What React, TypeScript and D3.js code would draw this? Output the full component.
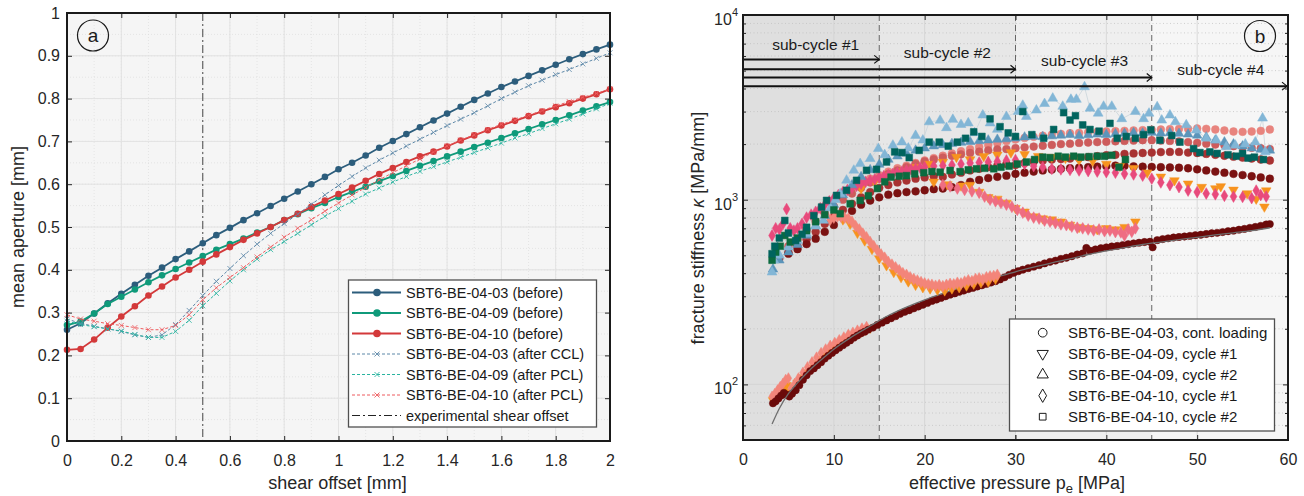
import * as d3 from "d3";
import { useEffect, useRef } from "react";

const FONT = "'Liberation Sans', Arial, Helvetica, sans-serif";

// ---------- panel a: mean aperture vs shear offset ----------
const shearOffset = [
  0, 0.05, 0.1, 0.15, 0.2, 0.25, 0.3, 0.35, 0.4, 0.45, 0.5, 0.55, 0.6, 0.65, 0.7, 0.75, 0.8, 0.85, 0.9, 0.95, 1,
  1.05, 1.1, 1.15, 1.2, 1.25, 1.3, 1.35, 1.4, 1.45, 1.5, 1.55, 1.6, 1.65, 1.7, 1.75, 1.8, 1.85, 1.9, 1.95, 2,
];
const ap03Before = [
  0.26, 0.275, 0.298, 0.322, 0.344, 0.365, 0.386, 0.405, 0.425, 0.443, 0.462, 0.481, 0.498, 0.516, 0.532, 0.549,
  0.566, 0.583, 0.6, 0.617, 0.635, 0.65, 0.667, 0.685, 0.701, 0.717, 0.733, 0.749, 0.765, 0.781, 0.797, 0.812,
  0.827, 0.84, 0.853, 0.866, 0.879, 0.892, 0.904, 0.915, 0.926,
];
const ap09Before = [
  0.271, 0.279, 0.298, 0.32, 0.337, 0.354, 0.371, 0.387, 0.402, 0.417, 0.432, 0.447, 0.46, 0.473, 0.487, 0.5,
  0.516, 0.53, 0.544, 0.556, 0.57, 0.582, 0.594, 0.607, 0.619, 0.631, 0.643, 0.654, 0.665, 0.676, 0.687, 0.697,
  0.708, 0.719, 0.729, 0.74, 0.75, 0.761, 0.772, 0.782, 0.792,
];
const ap10Before = [
  0.213, 0.215, 0.237, 0.265, 0.291, 0.315, 0.34, 0.361, 0.382, 0.4, 0.419, 0.436, 0.453, 0.47, 0.485, 0.5,
  0.516, 0.531, 0.547, 0.562, 0.577, 0.592, 0.608, 0.624, 0.638, 0.652, 0.665, 0.676, 0.688, 0.702, 0.714, 0.726,
  0.737, 0.748, 0.759, 0.77, 0.78, 0.789, 0.8, 0.81, 0.822,
];
const ap03After = [
  0.285, 0.275, 0.268, 0.262, 0.256, 0.248, 0.242, 0.248, 0.272, 0.305, 0.34, 0.373, 0.403, 0.433, 0.46, 0.485,
  0.508, 0.53, 0.553, 0.575, 0.597, 0.618, 0.638, 0.656, 0.673, 0.689, 0.705, 0.721, 0.737, 0.752, 0.767, 0.783,
  0.8, 0.815, 0.83, 0.843, 0.856, 0.868, 0.881, 0.894, 0.907,
];
const ap09After = [
  0.28, 0.272, 0.267, 0.262, 0.257, 0.249, 0.242, 0.242, 0.256, 0.282, 0.316, 0.345, 0.374, 0.4, 0.425, 0.447,
  0.466, 0.485, 0.505, 0.525, 0.543, 0.56, 0.577, 0.591, 0.605, 0.618, 0.63, 0.641, 0.652, 0.663, 0.674, 0.685,
  0.696, 0.708, 0.718, 0.73, 0.741, 0.752, 0.764, 0.776, 0.789,
];
const ap10After = [
  0.295, 0.285, 0.28, 0.274, 0.27, 0.265, 0.26, 0.26, 0.27, 0.295, 0.33, 0.358, 0.382, 0.405, 0.43, 0.453,
  0.476, 0.497, 0.517, 0.537, 0.556, 0.575, 0.592, 0.61, 0.627, 0.643, 0.659, 0.675, 0.689, 0.703, 0.715, 0.728,
  0.74, 0.75, 0.761, 0.772, 0.783, 0.793, 0.803, 0.812, 0.822,
];
const apLabels = [
  "SBT6-BE-04-03 (before)",
  "SBT6-BE-04-09 (before)",
  "SBT6-BE-04-10 (before)",
  "SBT6-BE-04-03 (after CCL)",
  "SBT6-BE-04-09 (after PCL)",
  "SBT6-BE-04-10 (after PCL)",
];
const shearMarker = 0.5;
const apXTicks = [0, 0.2, 0.4, 0.6, 0.8, 1, 1.2, 1.4, 1.6, 1.8, 2];
const apYTicks = [0, 0.1, 0.2, 0.3, 0.4, 0.5, 0.6, 0.7, 0.8, 0.9, 1];

// ---------- panel b: fracture stiffness vs effective pressure ----------
const pTicks = [0, 10, 20, 30, 40, 50, 60];
const kMajor = [100, 1000, 10000];
const kMinor = [50, 60, 70, 80, 90, 200, 300, 400, 500, 600, 700, 800, 900, 2000, 3000, 4000, 5000, 6000, 7000, 8000, 9000];
const subCycleEnds = [15, 30, 45, 60];
const arrowK = [5750, 5090, 4590, 4120];
const subCycleLabels = ["sub-cycle #1", "sub-cycle #2", "sub-cycle #3", "sub-cycle #4"];
const subCycleLabelP = [8.0, 22.5, 37.6, 52.6];
const subCycleLabelK = [6960, 6300, 5700, 5090];
const stiffLabels = [
  "SBT6-BE-04-03, cont. loading",
  "SBT6-BE-04-09, cycle #1",
  "SBT6-BE-04-09, cycle #2",
  "SBT6-BE-04-10, cycle #1",
  "SBT6-BE-04-10, cycle #2",
];

type Pt = [number, number];

const contLoadLower: Pt[] = [
  [3.3, 79], [3.6, 81], [3.9, 84], [4.2, 87], [4.5, 90], [4.8, 88], [5.1, 86], [5.4, 89], [5.8, 93], [6.2, 99],
  [6.6, 106], [7.0, 112], [7.4, 118], [7.8, 122], [8.2, 127], [8.6, 132], [9.0, 138], [9.4, 143], [9.8, 148],
  [10.2, 153], [10.6, 158], [11.0, 163], [11.4, 168], [11.8, 173], [12.2, 179], [12.6, 184], [13.0, 189],
  [13.4, 193], [13.8, 198], [14.3, 203], [14.8, 210], [15.3, 216], [15.8, 222], [16.3, 228], [16.8, 234],
  [17.3, 241], [17.8, 247], [18.3, 252], [18.8, 258], [19.3, 264], [19.8, 270], [20.3, 276], [20.8, 283],
  [21.3, 288], [21.8, 294], [22.3, 300], [22.8, 306], [23.3, 311], [23.8, 317], [24.3, 322], [24.8, 328],
  [25.3, 333], [25.8, 339], [26.3, 344], [26.8, 350], [27.3, 356], [27.8, 362], [28.3, 370], [28.8, 380],
  [29.3, 392], [29.8, 402], [30.3, 410], [30.8, 418], [31.4, 426], [32, 434], [32.6, 442], [33.2, 452],
  [33.8, 461], [34.4, 468], [35, 478], [35.6, 485], [36.2, 494], [36.8, 505], [37.4, 512], [37.8, 548],
  [38.2, 530], [38.8, 538], [39.4, 546], [40, 552], [40.6, 558], [41.2, 562], [41.8, 568], [42.4, 574],
  [43, 580], [43.6, 585], [44.2, 590], [44.8, 592], [45.1, 552], [45.6, 604], [46.2, 612], [46.8, 618],
  [47.4, 624], [48, 628], [48.6, 632], [49.2, 637], [49.8, 642], [50.4, 646], [51, 652], [51.6, 658],
  [52.2, 662], [52.8, 668], [53.4, 675], [54, 680], [54.6, 688], [55.2, 695], [55.8, 704], [56.4, 712],
  [57, 722], [57.6, 734], [58, 738],
];
const fitCurve: Pt[] = [
  [3.2, 61], [4, 74], [5, 89], [6, 102], [7, 115], [8, 128], [9, 141], [10, 155], [12, 181], [14, 207],
  [16, 236], [18, 262], [20, 287], [22, 311], [24, 335], [26, 358], [28, 382], [30, 407], [32, 431],
  [34, 455], [36, 478], [38, 505], [40, 528], [42, 550], [44, 572], [46, 590], [48, 608], [50, 626],
  [52, 645], [54, 662], [56, 680], [58, 705],
];
const triC1Lower: Pt[] = [
  [3.3, 82], [3.6, 85], [3.9, 88], [4.2, 92], [4.5, 96], [4.8, 99], [5.2, 91], [5.6, 96], [6, 102], [6.5, 109],
  [7, 116], [7.5, 123], [8, 130], [8.5, 137], [9, 144], [9.5, 150], [10, 157], [10.5, 163], [11, 169],
  [11.5, 175], [12, 181], [12.5, 187], [13, 192], [13.5, 197], [14, 202],
];
const diaC1Lower: Pt[] = [
  [3.2, 86], [3.5, 89], [3.8, 93], [4.1, 97], [4.4, 101], [4.7, 106], [5.0, 108], [5.3, 95], [5.7, 101],
  [6.1, 108], [6.6, 116], [7.1, 124], [7.6, 132], [8.1, 140], [8.6, 148], [9.1, 155], [9.6, 162], [10.1, 168],
  [10.6, 174], [11.1, 180], [11.6, 186], [12.1, 191], [12.6, 196], [13.1, 201], [13.6, 205],
];
const diaBranchA: Pt[] = [
  [9.6, 780], [10.0, 800], [10.4, 812], [10.8, 808], [11.2, 800], [11.6, 790], [12.0, 760], [12.4, 720],
  [12.8, 690], [13.2, 655], [13.6, 625], [14.0, 590], [14.4, 560], [14.8, 530], [15.2, 505], [15.6, 485],
  [16.0, 460], [16.4, 445], [16.8, 430], [17.2, 415], [17.6, 400], [18.0, 392], [18.4, 380], [18.8, 372],
  [19.2, 365], [19.6, 358], [20.0, 352], [20.4, 348], [20.8, 346], [21.2, 342], [21.6, 345], [22.0, 340],
  [22.4, 346], [22.8, 350], [23.2, 348], [23.6, 355], [24.0, 352], [24.4, 360], [24.8, 366], [25.2, 362],
  [25.6, 372], [26.0, 375], [26.4, 370], [26.8, 380], [27.2, 384], [27.6, 386], [28.0, 392],
];
const triBranchA: Pt[] = [
  [11, 780], [11.8, 740], [12.6, 660], [13.4, 600], [14.2, 540], [15, 480], [15.8, 440], [16.6, 405],
  [17.4, 380], [18.2, 360], [19, 345], [19.8, 335], [20.6, 330], [21.4, 325], [22.2, 322], [23, 330],
  [23.8, 335], [24.6, 342], [25.4, 350], [26.2, 356], [27, 360], [27.8, 372],
];
const diaBranchB: Pt[] = [
  [22.0, 1200], [22.8, 1180], [23.6, 1150], [24.4, 1130], [25.2, 1110], [26.0, 1090], [26.6, 1040],
  [27.2, 1000], [27.8, 980], [28.4, 960], [29.0, 940], [29.6, 915], [30.2, 880], [30.8, 850], [31.4, 820],
  [32.0, 800], [32.6, 790], [33.2, 770], [33.8, 760], [34.4, 748], [35.0, 735], [35.6, 728], [36.2, 715],
  [36.8, 705], [37.4, 700], [38.0, 690], [38.6, 682], [39.2, 690], [39.8, 675], [40.4, 680], [41.0, 668],
  [41.6, 665], [42.0, 640], [42.4, 690], [42.8, 670], [43.2, 700],
];
const triBranchB: Pt[] = [
  [21, 1250], [22.5, 1210], [24, 1190], [25, 1200], [26, 1100], [27, 1030], [28, 1010], [29, 960], [30, 900],
  [31, 860], [32, 810], [33, 790], [34, 780], [35, 760], [36, 730], [37, 710], [38, 700], [39, 690], [40, 700],
  [41, 690], [42, 710], [43.2, 760],
];
const diaC1Upper: Pt[] = [
  [3.2, 640], [3.6, 700], [4.0, 690], [4.4, 740], [4.8, 890], [5.2, 700], [5.6, 680], [6.0, 700], [6.5, 740],
  [7.0, 800], [7.5, 830], [8.0, 860], [8.5, 900], [9.0, 940], [9.5, 980], [10.0, 1020], [10.5, 1060],
  [11.0, 1100], [11.5, 1130], [12.0, 1160], [12.5, 1190], [13.0, 1220], [13.5, 1250], [14.0, 1270],
  [14.5, 1290], [15.0, 1320], [15.5, 1340], [16.0, 1360], [16.5, 1380], [17.0, 1400], [17.5, 1420],
  [18.0, 1440], [18.5, 1460], [19.0, 1470], [19.5, 1490], [20.0, 1500], [21, 1520], [22, 1530], [23, 1540],
  [24, 1560], [25, 1580], [26, 1590], [27, 1600], [28, 1610], [29, 1630], [30, 1640], [31, 1560], [32, 1520],
  [33, 1500], [34, 1470], [35, 1460], [36, 1450], [37, 1440], [38, 1430], [39, 1420], [40, 1410], [41, 1400],
  [42, 1380], [43, 1370], [44, 1350], [45, 1300], [46, 1240], [47, 1200], [48, 1170], [49, 1120], [50, 1100],
  [51, 1080], [52, 1070], [53, 1050], [54, 1040], [55, 1035], [56, 1020], [56.5, 1120], [57, 1060], [57.6, 1040],
];
const triC1Upper: Pt[] = [
  [13, 1150], [14.5, 1250], [16, 1350], [17.5, 1420], [19, 1500], [20.5, 1560], [22, 1600], [23.5, 1700],
  [25, 1650], [26.5, 1720], [28, 1750], [29.5, 1800], [31, 1760], [32.5, 1720], [34, 1700], [35.5, 1680],
  [37, 1640], [38.5, 1620], [40, 1560], [41.5, 1520], [43, 1480], [44.5, 1400], [46, 1330], [47.5, 1270],
  [49, 1220], [50.5, 1170], [52, 1150], [52.6, 1180], [54, 1130], [55.5, 1080], [56.5, 1010], [57.6, 1120],
  [57.4, 915],
];
const contMaroon: Pt[] = [
  [5, 510], [6, 540], [7, 575], [8, 615], [9, 670], [10, 730], [11, 800], [12, 870], [13, 940], [14, 990],
  [15, 1030], [16, 1065], [17, 1085], [18, 1100], [19, 1110], [20, 1125], [21, 1140], [22, 1150], [23, 1170],
  [24, 1200], [25, 1250], [26, 1280], [27, 1310], [28, 1330], [29, 1350], [30, 1380], [31, 1400], [32, 1420],
  [33, 1440], [34, 1455], [35, 1470], [36, 1480], [37, 1490], [38, 1500], [39, 1510], [40, 1520], [41, 1530],
  [42, 1525], [43, 1515], [44, 1510], [45, 1505], [46, 1500], [47, 1495], [48, 1490], [49, 1480], [50, 1460],
  [51, 1440], [52, 1420], [53, 1400], [54, 1380], [55, 1360], [56, 1340], [57, 1320], [58, 1300],
];
const contRed: Pt[] = [
  [4, 480], [5, 520], [6, 560], [7, 610], [8, 670], [9, 740], [10, 810], [11, 880], [12, 950], [13, 1030],
  [14, 1100], [15, 1160], [16, 1200], [17, 1240], [18, 1270], [19, 1300], [20, 1320], [21, 1340], [22, 1330],
  [23, 1370], [24, 1400], [25, 1440], [26, 1470], [27, 1500], [28, 1530], [29, 1560], [30, 1540], [31, 1580],
  [32, 1610], [33, 1630], [34, 1650], [35, 1660], [36, 1670], [37, 1680], [38, 1700], [39, 1720], [40, 1740],
  [41, 1750], [42, 1770], [43, 1780], [44, 1790], [45, 1800], [46, 1810], [47, 1815], [48, 1815], [49, 1800],
  [50, 1790], [51, 1770], [52, 1750], [53, 1730], [54, 1710], [55, 1690], [56, 1670], [57, 1650], [58, 1630],
];
const contRose: Pt[] = [
  [5, 560], [6, 610], [7, 680], [8, 760], [9, 840], [10, 920], [11, 1000], [12, 1080], [13, 1160], [14, 1240],
  [15, 1300], [16, 1380], [17, 1440], [18, 1500], [19, 1560], [20, 1610], [21, 1650], [22, 1690], [23, 1730],
  [24, 1760], [25, 1790], [26, 1820], [27, 1850], [28, 1870], [29, 1880], [30, 1900], [31, 1920], [32, 1940],
  [33, 1960], [34, 1980], [35, 2000], [36, 2010], [37, 2030], [38, 2040], [39, 2050], [40, 2060], [41, 2070],
  [42, 2080], [43, 2090], [44, 2100], [45, 2100], [46, 2090], [47, 2080], [48, 2070], [49, 2050], [50, 2030],
  [51, 2010], [52, 1990], [53, 1970], [54, 1950], [55, 1930], [56, 1910], [57, 1900], [58, 1880],
];
const contSalmon: Pt[] = [
  [12, 1150], [13, 1230], [14, 1300], [15, 1360], [16, 1420], [17, 1480], [18, 1530], [19, 1580], [20, 1630],
  [21, 1680], [22, 1730], [23, 1780], [24, 1830], [25, 1880], [26, 1930], [27, 1980], [28, 2030], [29, 2080],
  [30, 2120], [31, 2160], [32, 2190], [33, 2220], [34, 2250], [35, 2270], [36, 2290], [37, 2300], [38, 2320],
  [39, 2330], [40, 2340], [41, 2350], [42, 2360], [43, 2370], [44, 2380], [45, 2390], [46, 2400], [47, 2410],
  [48, 2420], [49, 2420], [50, 2430], [51, 2420], [52, 2400], [53, 2370], [54, 2340], [55, 2330], [56, 2340],
  [57, 2360], [58, 2400],
];
const triC2Light: Pt[] = [
  [3.2, 405], [3.4, 470], [4, 500], [5, 553], [6, 600], [7, 654], [8, 720], [8.85, 772], [9.6, 900],
  [10.2, 1000], [10.7, 1075], [11.4, 1273], [12.2, 1442], [12.9, 1565], [14.0, 1668], [14.9, 1890],
  [15.6, 1750], [16.5, 1970], [17.5, 2050], [18.2, 1900], [19.0, 2225], [19.8, 2100], [20.5, 2636],
  [21.7, 2690], [22.4, 2450], [23.1, 2717], [24, 2550], [24.8, 2600], [25.5, 2300], [26.4, 2870], [27.2, 2600],
  [28, 2400], [29, 2818], [30.3, 3000], [30.8, 3240], [31.2, 2818], [32.3, 3052], [33.2, 3310], [34.1, 3540],
  [35.2, 3200], [36.1, 3490], [36.7, 3490], [37.6, 4080], [38.2, 3120], [39.1, 2935], [39.7, 3200],
  [40.6, 3200], [41.7, 2740], [43.2, 3000], [44.1, 2740], [44.7, 2935], [45.6, 3180], [46.1, 2693],
  [47, 2870], [47.6, 2636], [48.8, 2540], [49.9, 2377], [51, 2150], [52.1, 2100], [53.2, 1930], [54.2, 1970],
  [55.3, 2000], [56.4, 2050], [57.2, 2760], [57.5, 1815],
];
const triC2Mid: Pt[] = [
  [3.3, 420], [4, 470], [5, 520], [6, 570], [7, 640], [8, 720], [9, 820], [10, 940], [11, 1060], [12, 1200],
  [13, 1330], [14, 1450], [15, 1550], [16, 1650], [17, 1720], [18, 1780], [19, 1850], [20, 1900], [21, 1950],
  [22, 1980], [23, 2010], [24, 2040], [25, 2060], [26, 2080], [27, 2100], [28, 2120], [29, 2130], [30, 2150],
  [31, 2180], [32, 2200], [33, 2190], [34, 2210], [35, 2230], [36, 2250], [37, 2220], [38, 2240], [39, 2260],
  [40, 2250], [41, 2270], [42, 2280], [43, 2300], [44, 2290], [45, 2310], [46, 2290], [47, 2300], [48, 2280],
  [49, 2260], [50, 2230], [51, 2180], [52, 2100], [53, 2050], [54, 2000], [55, 1950], [56, 1900], [57, 1870],
  [58, 1850],
];
const sqC2Green: Pt[] = [
  [3.2, 470], [3.6, 520], [4.1, 560], [4.6, 640], [5.2, 590], [6, 620], [7, 680], [8, 760], [9, 830],
  [10, 880], [10.7, 840], [11.8, 950], [12.9, 991], [13.8, 1050], [14.8, 1150], [15.6, 1250], [16.3, 1325],
  [17.2, 1340], [18, 1350], [18.9, 1380], [19.9, 1400], [20.8, 1420], [21.7, 1410], [22.8, 1440],
  [23.9, 1420], [24.8, 1450], [25.7, 1470], [26.6, 1480], [27.6, 1470], [28.4, 1500], [29.3, 1520],
  [30.2, 1560], [31.2, 1600], [32.1, 1650], [33, 1700], [33.8, 1690], [34.7, 1720], [35.5, 1700],
  [36.4, 1720], [37.2, 1700], [38.1, 1710], [39, 1720], [39.8, 1720], [40.6, 1740], [41.4, 1500], [42.1, 1650],
];
const sqC2Teal: Pt[] = [
  [3.2, 510], [3.5, 560], [4.0, 620], [4.6, 772], [5.0, 660], [5.8, 601], [6.5, 650], [7.0, 709], [7.8, 820],
  [8.65, 912], [9.2, 991], [10.3, 1055], [11.4, 1124], [12.5, 1273], [13.6, 1442], [14.7, 1460], [15.8, 1600],
  [16.7, 1815], [17.5, 1800], [18.3, 1690], [19.4, 1850], [20.5, 2050], [21.6, 2050], [22.6, 1950],
  [23.6, 2050], [24.5, 2150], [25.4, 2330], [26.3, 2200], [27.2, 2740], [28.3, 2485], [29.2, 2300],
  [30.0, 2200], [30.8, 3000], [31.8, 2250], [33.1, 2150], [34.2, 2400], [35.3, 2960], [36.0, 2700],
  [36.6, 2850], [37.4, 2540], [38.2, 2400], [39.2, 2350], [40.4, 2590], [41.2, 2150], [42.2, 2200],
  [43.2, 2150], [44.1, 2250], [44.9, 2390], [45.9, 2100], [47.2, 2225], [48.1, 2050], [49.6, 1890],
  [50.3, 1800], [51.4, 1815], [52.2, 1780], [53.4, 1750], [54.3, 1720], [55.0, 1780], [55.6, 1680],
  [56.3, 1700], [57.3, 1650],
];

type Shape = "circle" | "triDown" | "triUp" | "diamond" | "square";

const symbolPath = (shape: Shape, size: number) => {
  const t =
    shape === "circle" ? d3.symbolCircle
    : shape === "diamond" ? d3.symbolDiamond
    : shape === "square" ? d3.symbolSquare
    : d3.symbolTriangle;
  return d3.symbol(t, size)()!;
};

type Sel = d3.Selection<SVGSVGElement, unknown, null, undefined>;

function drawApertures(svg: Sel) {
  const box = { left: 67, right: 610, top: 13, bottom: 441 };
  const x = d3.scaleLinear().domain([0, 2]).range([box.left, box.right]);
  const y = d3.scaleLinear().domain([0, 1]).range([box.bottom, box.top]);
  const g = svg.append("g").attr("font-family", FONT);

  g.append("rect")
    .attr("x", box.left).attr("y", box.top)
    .attr("width", box.right - box.left).attr("height", box.bottom - box.top)
    .attr("fill", "#f5f5f5");

  // minor grid
  g.append("g").selectAll("line.mx").data(x.ticks(20)).enter().append("line")
    .attr("x1", (d) => x(d)).attr("x2", (d) => x(d)).attr("y1", box.top).attr("y2", box.bottom)
    .attr("stroke", "#d8d8d8").attr("stroke-dasharray", "1,2").attr("stroke-width", 0.6);
  g.append("g").selectAll("line.my").data(y.ticks(20)).enter().append("line")
    .attr("y1", (d) => y(d)).attr("y2", (d) => y(d)).attr("x1", box.left).attr("x2", box.right)
    .attr("stroke", "#d8d8d8").attr("stroke-dasharray", "1,2").attr("stroke-width", 0.6);
  // major grid
  g.append("g").selectAll("line").data(apXTicks).enter().append("line")
    .attr("x1", (d) => x(d)).attr("x2", (d) => x(d)).attr("y1", box.top).attr("y2", box.bottom)
    .attr("stroke", "#e2e2e2").attr("stroke-width", 1);
  g.append("g").selectAll("line").data(apYTicks).enter().append("line")
    .attr("y1", (d) => y(d)).attr("y2", (d) => y(d)).attr("x1", box.left).attr("x2", box.right)
    .attr("stroke", "#e2e2e2").attr("stroke-width", 1);

  // shear offset marker
  g.append("line")
    .attr("x1", x(shearMarker)).attr("x2", x(shearMarker)).attr("y1", box.top).attr("y2", box.bottom)
    .attr("stroke", "#555").attr("stroke-width", 1.1).attr("stroke-dasharray", "8,3,2,3");

  const before = [
    { values: ap03Before, color: "#2c5d7c" },
    { values: ap09Before, color: "#0f9a7a" },
    { values: ap10Before, color: "#d3393a" },
  ];
  const after = [
    { values: ap03After, color: "#5d88a8" },
    { values: ap09After, color: "#2ab4a0" },
    { values: ap10After, color: "#ee5b5e" },
  ];
  const line = d3.line<number>().x((_, i) => x(shearOffset[i])).y((d) => y(d));

  before.forEach((s) => {
    g.append("path").attr("d", line(s.values)!).attr("fill", "none")
      .attr("stroke", s.color).attr("stroke-width", 1.8);
    g.append("g").selectAll("circle").data(s.values).enter().append("circle")
      .attr("cx", (_, i) => x(shearOffset[i])).attr("cy", (d) => y(d)).attr("r", 3.3)
      .attr("fill", s.color);
  });
  const cross = "M-2.5,-2.5L2.5,2.5M-2.5,2.5L2.5,-2.5";
  after.forEach((s) => {
    g.append("path").attr("d", line(s.values)!).attr("fill", "none")
      .attr("stroke", s.color).attr("stroke-width", 1).attr("stroke-dasharray", "3,2");
    g.append("g").selectAll("path").data(s.values).enter().append("path")
      .attr("d", cross)
      .attr("transform", (d, i) => `translate(${x(shearOffset[i])},${y(d)})`)
      .attr("stroke", s.color).attr("stroke-width", 0.8).attr("fill", "none");
  });

  // axes (MATLAB style ticks inside)
  const tickLen = 5;
  const xAxis = g.append("g").attr("transform", `translate(0,${box.bottom})`)
    .call(d3.axisBottom(x).tickValues(apXTicks).tickSizeInner(-tickLen).tickSizeOuter(0).tickPadding(13.5)
      .tickFormat((d) => d3.format("~g")(d as number)));
  const yAxis = g.append("g").attr("transform", `translate(${box.left},0)`)
    .call(d3.axisLeft(y).tickValues(apYTicks).tickSizeInner(-tickLen).tickSizeOuter(0).tickPadding(7)
      .tickFormat((d) => d3.format("~g")(d as number)));
  g.append("g").attr("transform", `translate(0,${box.top})`)
    .call(d3.axisTop(x).tickValues(apXTicks).tickSizeInner(-tickLen).tickSizeOuter(0).tickFormat(() => ""));
  g.append("g").attr("transform", `translate(${box.right},0)`)
    .call(d3.axisRight(y).tickValues(apYTicks).tickSizeInner(-tickLen).tickSizeOuter(0).tickFormat(() => ""));
  g.selectAll(".domain").remove();
  g.selectAll(".tick line").attr("stroke", "#262626").attr("stroke-width", 1);
  [xAxis, yAxis].forEach((a) =>
    a.selectAll("text").attr("font-family", FONT).attr("font-size", 16).attr("fill", "#262626"));

  g.append("rect")
    .attr("x", box.left).attr("y", box.top)
    .attr("width", box.right - box.left).attr("height", box.bottom - box.top)
    .attr("fill", "none").attr("stroke", "#1a1a1a").attr("stroke-width", 2);

  // axis titles
  g.append("text").attr("x", (box.left + box.right) / 2 - 1).attr("y", 489)
    .attr("text-anchor", "middle").attr("font-size", 18).attr("fill", "#262626")
    .text("shear offset [mm]");
  g.append("text").attr("transform", `translate(24,${(box.top + box.bottom) / 2}) rotate(-90)`)
    .attr("text-anchor", "middle").attr("font-size", 18).attr("fill", "#262626")
    .text("mean aperture [mm]");

  // panel tag
  g.append("circle").attr("cx", 93).attr("cy", 35.5).attr("r", 15.5)
    .attr("fill", "none").attr("stroke", "#1a1a1a").attr("stroke-width", 1.2);
  g.append("text").attr("x", 93).attr("y", 42).attr("text-anchor", "middle")
    .attr("font-size", 19).attr("fill", "#1a1a1a").text("a");

  // legend
  const lg = g.append("g");
  lg.append("rect").attr("x", 348.5).attr("y", 280).attr("width", 248).attr("height", 147)
    .attr("fill", "#ffffff").attr("stroke", "#505050").attr("stroke-width", 1.3);
  const rowY = (i: number) => 292.5 + i * 20.5;
  before.forEach((s, i) => {
    lg.append("line").attr("x1", 352).attr("x2", 401).attr("y1", rowY(i)).attr("y2", rowY(i))
      .attr("stroke", s.color).attr("stroke-width", 1.8);
    lg.append("circle").attr("cx", 377).attr("cy", rowY(i)).attr("r", 3.8).attr("fill", s.color);
  });
  after.forEach((s, j) => {
    const i = j + 3;
    lg.append("line").attr("x1", 352).attr("x2", 401).attr("y1", rowY(i)).attr("y2", rowY(i))
      .attr("stroke", s.color).attr("stroke-width", 1).attr("stroke-dasharray", "3,2");
    lg.append("path").attr("d", cross).attr("transform", `translate(377,${rowY(i)})`)
      .attr("stroke", s.color).attr("stroke-width", 0.9);
  });
  lg.append("line").attr("x1", 352).attr("x2", 401).attr("y1", rowY(6)).attr("y2", rowY(6))
    .attr("stroke", "#222").attr("stroke-width", 1.1).attr("stroke-dasharray", "8,3,2,3");
  [...apLabels, "experimental shear offset"].forEach((t, i) => {
    lg.append("text").attr("x", 406).attr("y", rowY(i) + 5).attr("font-size", 14.5)
      .attr("fill", "#1a1a1a").text(t);
  });
}

function drawStiffness(svg: Sel) {
  const box = { left: 743, right: 1288, top: 15, bottom: 440 };
  const x = d3.scaleLinear().domain([0, 60]).range([box.left, box.right]);
  const y = d3.scaleLog().domain([50, 10000]).range([box.bottom, box.top]);
  const g = svg.append("g").attr("font-family", FONT);

  const shadeEdges = [0, ...subCycleEnds];
  const shadeColors = ["#dfdfdf", "#e7e7e7", "#efefef", "#f6f6f6"];
  shadeColors.forEach((c, i) => {
    g.append("rect")
      .attr("x", x(shadeEdges[i])).attr("y", box.top)
      .attr("width", x(shadeEdges[i + 1]) - x(shadeEdges[i])).attr("height", box.bottom - box.top)
      .attr("fill", c);
  });

  // grid
  g.append("g").selectAll("line").data(kMinor).enter().append("line")
    .attr("y1", (d) => y(d)).attr("y2", (d) => y(d)).attr("x1", box.left).attr("x2", box.right)
    .attr("stroke", "#bdbdbd").attr("stroke-dasharray", "1,2.5").attr("stroke-width", 0.7);
  g.append("g").selectAll("line").data(kMajor).enter().append("line")
    .attr("y1", (d) => y(d)).attr("y2", (d) => y(d)).attr("x1", box.left).attr("x2", box.right)
    .attr("stroke", "#d2d2d2").attr("stroke-width", 0.8);
  g.append("g").selectAll("line").data(pTicks).enter().append("line")
    .attr("x1", (d) => x(d)).attr("x2", (d) => x(d)).attr("y1", box.top).attr("y2", box.bottom)
    .attr("stroke", "#d2d2d2").attr("stroke-width", 0.8);

  // sub-cycle boundaries
  g.append("g").selectAll("line").data(subCycleEnds.slice(0, 3)).enter().append("line")
    .attr("x1", (d) => x(d)).attr("x2", (d) => x(d)).attr("y1", box.top).attr("y2", box.bottom)
    .attr("stroke", "#666").attr("stroke-width", 1).attr("stroke-dasharray", "6,4");

  // data
  g.append("clipPath").attr("id", "clipB").append("rect")
    .attr("x", box.left).attr("y", box.top)
    .attr("width", box.right - box.left).attr("height", box.bottom - box.top);
  const data = g.append("g").attr("clip-path", "url(#clipB)");

  const series: { pts: Pt[]; shape: Shape; color: string; size: number }[] = [
    { pts: triC1Lower, shape: "triDown", color: "#f7931e", size: 38 },
    { pts: diaC1Lower, shape: "diamond", color: "#f3857a", size: 36 },
    { pts: contLoadLower, shape: "circle", color: "#6b0a0a", size: 42 },
    { pts: contSalmon, shape: "circle", color: "#e8847e", size: 48 },
    { pts: contRose, shape: "circle", color: "#cd5c5c", size: 48 },
    { pts: contRed, shape: "circle", color: "#a83232", size: 48 },
    { pts: contMaroon, shape: "circle", color: "#7b1212", size: 48 },
    { pts: triC1Upper, shape: "triDown", color: "#f7931e", size: 40 },
    { pts: diaC1Upper, shape: "diamond", color: "#e84a7c", size: 40 },
    { pts: triBranchB, shape: "triDown", color: "#f7931e", size: 40 },
    { pts: diaBranchB, shape: "diamond", color: "#ef6d82", size: 40 },
    { pts: triBranchA, shape: "triDown", color: "#f7931e", size: 40 },
    { pts: diaBranchA, shape: "diamond", color: "#f3857a", size: 40 },
    { pts: triC2Mid, shape: "triUp", color: "#5b95ba", size: 40 },
    { pts: triC2Light, shape: "triUp", color: "#82b6d6", size: 42 },
    { pts: sqC2Green, shape: "square", color: "#0b6b3f", size: 46 },
    { pts: sqC2Teal, shape: "square", color: "#00645e", size: 46 },
  ];

  // faint connector for the light-blue cycle
  data.append("path")
    .attr("d", d3.line<Pt>().x((d) => x(d[0])).y((d) => y(d[1]))(triC2Light)!)
    .attr("fill", "none").attr("stroke", "#c9d4da").attr("stroke-width", 0.8);

  series.forEach((s) => {
    data.append("g").selectAll("path").data(s.pts).enter().append("path")
      .attr("d", symbolPath(s.shape, s.size))
      .attr("transform", (d) =>
        `translate(${x(d[0])},${y(d[1])})${s.shape === "triDown" ? " rotate(180)" : ""}`)
      .attr("fill", s.color).attr("stroke", s.color).attr("stroke-width", 0.5);
    if (s.pts === contLoadLower) {
      data.append("path")
        .attr("d", d3.line<Pt>().curve(d3.curveMonotoneX).x((d) => x(d[0])).y((d) => y(d[1]))(fitCurve)!)
        .attr("fill", "none").attr("stroke", "#6e6e6e").attr("stroke-width", 1.3);
    }
  });

  // sub-cycle arrows
  subCycleEnds.forEach((p, i) => {
    const yy = y(arrowK[i]);
    const xe = x(p) - (i === 3 ? 1 : 0);
    g.append("line").attr("x1", box.left).attr("x2", xe).attr("y1", yy).attr("y2", yy)
      .attr("stroke", "#111").attr("stroke-width", 2);
    g.append("path").attr("d", `M${xe - 5},${yy - 4}L${xe},${yy}L${xe - 5},${yy + 4}`)
      .attr("fill", "none").attr("stroke", "#111").attr("stroke-width", 1.2);
    g.append("text").attr("x", x(subCycleLabelP[i])).attr("y", y(subCycleLabelK[i]) + 5.5)
      .attr("text-anchor", "middle").attr("font-size", 15.5).attr("fill", "#1a1a1a")
      .text(subCycleLabels[i]);
  });

  // axes
  const tickLen = 5;
  const xAxis = g.append("g").attr("transform", `translate(0,${box.bottom})`)
    .call(d3.axisBottom(x).tickValues(pTicks).tickSizeInner(-tickLen).tickSizeOuter(0).tickPadding(13.5)
      .tickFormat((d) => `${d}`));
  g.append("g").attr("transform", `translate(0,${box.top})`)
    .call(d3.axisTop(x).tickValues(pTicks).tickSizeInner(-tickLen).tickSizeOuter(0).tickFormat(() => ""));
  [d3.axisRight(y), d3.axisLeft(y)].forEach((ax, side) => {
    const tx = side === 0 ? box.right : box.left;
    g.append("g").attr("transform", `translate(${tx},0)`)
      .call(ax.tickValues(kMajor).tickSizeInner(-tickLen).tickSizeOuter(0).tickFormat(() => ""));
    g.append("g").attr("transform", `translate(${tx},0)`)
      .call((side === 0 ? d3.axisRight(y) : d3.axisLeft(y)).tickValues(kMinor).tickSizeInner(-3)
        .tickSizeOuter(0).tickFormat(() => ""));
  });
  g.selectAll(".domain").remove();
  g.selectAll(".tick line").attr("stroke", "#262626").attr("stroke-width", 1);
  xAxis.selectAll("text").attr("font-family", FONT).attr("font-size", 16).attr("fill", "#262626");

  kMajor.forEach((k) => {
    const t = g.append("text").attr("x", 738).attr("y", y(k) + 10).attr("text-anchor", "end")
      .attr("font-size", 16).attr("fill", "#262626");
    t.append("tspan").text("10");
    t.append("tspan").attr("dy", -9).attr("font-size", 11).text(`${Math.round(Math.log10(k))}`);
  });

  g.append("rect")
    .attr("x", box.left).attr("y", box.top)
    .attr("width", box.right - box.left).attr("height", box.bottom - box.top)
    .attr("fill", "none").attr("stroke", "#1a1a1a").attr("stroke-width", 2);

  // titles
  const xl = g.append("text").attr("x", 1017).attr("y", 489).attr("text-anchor", "middle")
    .attr("font-size", 18).attr("fill", "#262626");
  xl.append("tspan").text("effective pressure p");
  xl.append("tspan").attr("dy", 4).attr("font-size", 13).text("e");
  xl.append("tspan").attr("dy", -4).text(" [MPa]");
  const yl = g.append("text").attr("transform", `translate(704,228) rotate(-90)`)
    .attr("text-anchor", "middle").attr("font-size", 18).attr("fill", "#262626");
  yl.append("tspan").text("fracture stiffness ");
  yl.append("tspan").attr("font-style", "italic").text("κ");
  yl.append("tspan").text(" [MPa/mm]");

  // panel tag
  g.append("circle").attr("cx", 1260).attr("cy", 36).attr("r", 15.5)
    .attr("fill", "none").attr("stroke", "#1a1a1a").attr("stroke-width", 1.2);
  g.append("text").attr("x", 1260).attr("y", 42.5).attr("text-anchor", "middle")
    .attr("font-size", 19).attr("fill", "#1a1a1a").text("b");

  // legend
  const lg = g.append("g");
  lg.append("rect").attr("x", 1009.5).attr("y", 319).attr("width", 265).attr("height", 112)
    .attr("fill", "#ffffff").attr("stroke", "#505050").attr("stroke-width", 1.3);
  const legendShapes: Shape[] = ["circle", "triDown", "triUp", "diamond", "square"];
  const legendSizes = [60, 55, 55, 52, 45];
  stiffLabels.forEach((t, i) => {
    const yy = 332.7 + i * 21;
    lg.append("path").attr("d", symbolPath(legendShapes[i], legendSizes[i]))
      .attr("transform", `translate(1042.7,${yy})${legendShapes[i] === "triDown" ? " rotate(180)" : ""}`)
      .attr("fill", "none").attr("stroke", "#1a1a1a").attr("stroke-width", 1);
    lg.append("text").attr("x", 1068).attr("y", yy + 5.5).attr("font-size", 15).attr("fill", "#1a1a1a").text(t);
  });
}

export default function App() {
  const ref = useRef<SVGSVGElement | null>(null);

  useEffect(() => {
    if (!ref.current) return;
    const svg = d3.select(ref.current);
    svg.selectAll("*").remove();
    drawApertures(svg);
    drawStiffness(svg);
  }, []);

  return (
    <svg
      ref={ref}
      width={1304}
      height={496}
      style={{ position: "absolute", left: 0, top: 0, background: "#ffffff" }}
    ></svg>
  );
}
